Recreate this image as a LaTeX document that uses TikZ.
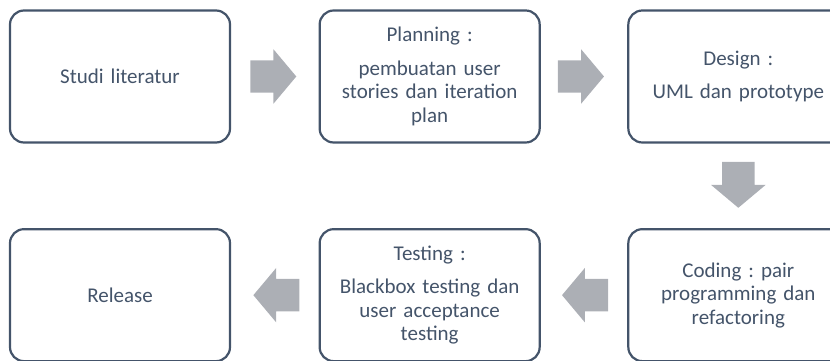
\documentclass[tikz,border=0pt]{standalone}
\usepackage{fontspec}
\setmainfont{Carlito}
\frenchspacing
\usetikzlibrary{shapes.arrows, positioning}
\definecolor{slate}{HTML}{44546A}
\definecolor{arrowgray}{RGB}{172,175,181}

\begin{document}
\begin{tikzpicture}
                [x=1pt, y=1pt,
                node distance=20pt,
                box/.style={
                    rectangle,
                    rounded corners=14pt,
                    draw=slate,
                    line width=2.2pt,
                    fill=white,
                    text=slate,
                    text width=200pt,
                    align=center,
                    font=\fontsize{21}{23.5}\selectfont,
                    minimum height=132pt,
                    minimum width=220pt
                },
                blockarrow/.style={
                    single arrow,
                    fill=arrowgray,
                    draw=none,
                    inner sep=0pt,
                    text width=0pt,
                    text height=16pt,
                    text depth=16pt,
                    minimum height=46pt,
                    single arrow head extend=11pt,
                    single arrow tip angle=100
                }
                ]
                \useasboundingbox (0,0) rectangle (830,361);

                % Top row, left to right
                \node[box] (studi) at (120,284.5) {Studi literatur};
                \node[blockarrow, right=19pt of studi] (a1) {};
                \node[box, right=22pt of a1] (planning) {Planning :\\[10pt]
                pembuatan user\\stories dan iteration\\plan};
                \node[blockarrow, right=17pt of planning] (a2) {};
                \node[box, right=23pt of a2] (design) {Design :\\[10pt]UML dan prototype};

                % Down to the bottom row
                \node[blockarrow, rotate=-90, below=18pt of design, anchor=west] (a3) {};
                \node[box, below=20pt of a3.east] (coding) {Coding : pair\\programming dan\\refactoring};

                % Bottom row, right to left
                \node[blockarrow, shape border rotate=180, left=19pt of coding] (a4) {};
                \node[box, left=21pt of a4] (testing) {Testing :\\[10pt]
                Blackbox testing dan\\user acceptance\\testing};
                \node[blockarrow, shape border rotate=180, left=19pt of testing] (a5) {};
                \node[box, left=22pt of a5] (release) {Release};
            \end{tikzpicture}
\end{document}
